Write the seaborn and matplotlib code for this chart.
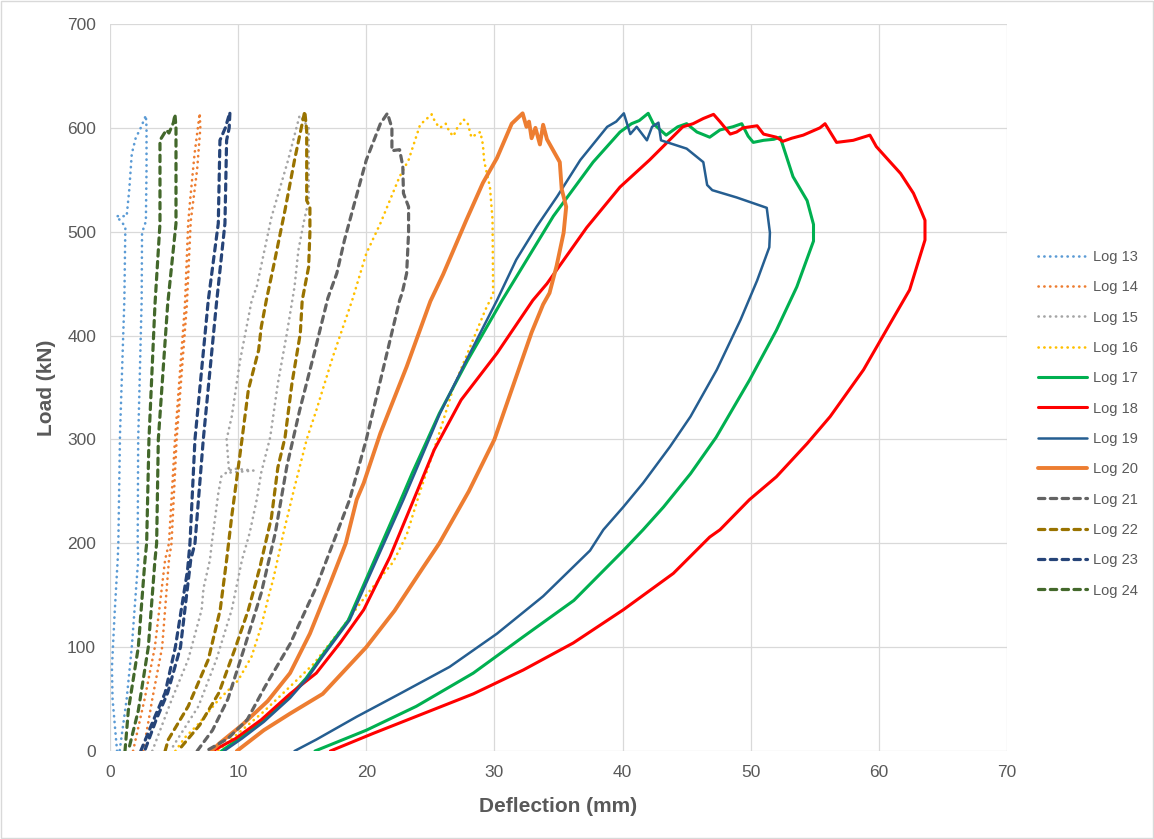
import matplotlib
matplotlib.use('Agg')
import matplotlib.pyplot as plt
import seaborn as sns
import pandas as pd

# deflection (mm) / load (kN), one loop per log
defl_13 = [0.55, 0.2, 0.15, 0.35, 0.6, 0.65, 0.78, 1.12, 1.17, 1.2, 0.5, 1.3, 1.5, 1.7, 2.0, 2.4, 2.8,
           2.85, 2.85, 2.8, 2.5, 2.47, 2.2, 2.16, 2.2, 1.7, 1.3, 0.75]
load_13 = [0, 50, 80, 130, 184, 200, 305, 434, 480, 505, 515, 515, 540, 575, 590, 600, 612,
           600, 560, 510, 499, 434, 300, 200, 184, 100, 50, 0]

defl_14 = [1.8, 2.7, 3.5, 4.3, 4.6, 5.07, 5.85, 6.1, 6.25, 6.6, 7.0,
           7.05, 6.8, 6.3, 6.0, 5.2, 4.8, 4.6, 4.07, 3.3, 2.6]
load_14 = [0, 50, 100, 184, 200, 300, 430, 508, 530, 575, 614,
           600, 560, 510, 430, 300, 200, 184, 100, 50, 0]

defl_15 = [3.3, 4.8, 6.1, 7.15, 7.3, 7.8, 7.94, 8.45, 8.7, 9.6, 11.2, 9.3, 9.1, 9.5, 10.15, 11.06, 11.45,
           12.6, 13.9, 14.8, 15.5, 15.5, 15.1, 14.7, 14.4, 13.8, 13.1, 12.5, 11.8, 11.45, 10.9, 10.3,
           9.5, 8.3, 6.9, 5.2, 4.7]
load_15 = [0, 49, 88, 136, 157, 184, 200, 248, 265, 272, 270, 268, 300, 322, 376, 434, 447,
           514, 569, 612, 600, 530, 508, 482, 447, 402, 354, 302, 268, 242, 210, 184,
           136, 88, 43, 10, 0]

defl_16 = [5.1, 5.85, 6.9, 8.45, 10.0, 11.05, 11.8, 12.4, 12.75, 13.5, 14.4, 15.35, 16.1, 17.4, 18.9,
           20.0, 21.1, 22.6, 23.3, 24.2, 25.1, 25.4, 25.75, 26.2, 26.5, 26.8, 27.1, 27.6, 27.9, 28.2,
           28.9, 29.1, 29.2, 29.65, 29.85, 29.9, 29.3, 28.0, 26.8, 25.95, 25.1, 24.2, 23.15, 22.1,
           20.0, 17.95, 15.9, 14.05, 12.0, 10.0, 8.4]
load_16 = [0, 13, 26, 49, 68, 91, 120, 150, 166, 208, 254, 300, 328, 380, 434,
           479, 508, 553, 569, 603, 613, 605, 600, 604, 596, 592, 600, 608, 605, 591,
           596, 584, 568, 543, 512, 440, 425, 386, 350, 316, 283, 250, 208, 182,
           150, 116, 84, 62, 38, 17, 0]

defl_17 = [8.7, 10.1, 11.8, 13.9, 15.3, 16.5, 18.6, 20.4, 22.7, 23.6, 25.7, 27.9, 30.6, 34.6, 37.7, 39.8,
           40.7, 41.3, 42.0, 42.4, 43.4, 44.3, 45.0, 45.8, 46.8, 47.6, 48.6, 49.3, 49.8, 50.2, 51.0,
           51.8, 52.3, 52.8, 53.3, 54.4, 54.9, 54.9, 53.6, 52.0, 49.9, 47.3, 45.3, 43.2, 41.6,
           40.06, 36.2, 32.25, 28.35, 23.9, 20.0, 16.0]
load_17 = [0, 12, 28, 51, 70, 91, 126, 177, 242, 268, 325, 376, 434, 515, 567, 596,
           604, 607, 614, 604, 593, 601, 604, 596, 591, 598, 601, 604, 592, 586, 588,
           589, 591, 572, 553, 530, 507, 491, 447, 405, 357, 302, 267, 235, 213,
           193, 145, 110, 75, 43, 20, 0]

defl_18 = [8.0, 9.8, 11.8, 14.05, 16.1, 17.95, 19.8, 21.85, 23.7, 25.3, 27.4, 30.2, 33.0, 34.1, 37.2, 39.8,
           42.1, 43.4, 44.7, 45.5, 46.3, 47.1, 47.6, 48.4, 48.9, 49.4, 50.5, 51.0, 52.0, 52.5, 53.2,
           54.1, 55.4, 55.8, 56.7, 58.0, 59.3, 59.8, 60.6, 61.7, 62.7, 63.3, 63.6, 63.6, 62.4, 60.9,
           58.8, 56.2, 54.4, 52.0, 49.9, 47.6, 46.8, 43.96, 40.06, 36.15, 32.25, 28.35, 24.45, 20.55, 17.2]
load_18 = [0, 12, 30, 55, 75, 104, 136, 187, 242, 290, 338, 383, 434, 450, 504, 543,
           569, 585, 601, 604, 609, 613, 606, 594, 596, 600, 602, 594, 591, 587, 590,
           593, 600, 604, 586, 588, 593, 582, 571, 556, 537, 520, 511, 492, 444, 412,
           367, 322, 296, 264, 242, 213, 206, 171, 136, 104, 78, 55, 36, 17, 0]

defl_19 = [8.9, 10.3, 12.0, 14.05, 15.4, 16.6, 18.7, 20.55, 22.9, 23.8, 25.75, 27.8, 30.2, 31.7, 33.3,
           34.9, 36.7, 38.8, 39.5, 40.1, 40.6, 41.1, 41.9, 42.3, 42.8, 43.0, 45.0, 46.3, 46.6, 47.0,
           48.9, 51.25, 51.5, 51.45, 50.5, 49.2, 47.35, 45.3, 43.7, 41.6, 40.06, 38.5, 37.46, 33.8,
           30.2, 26.5, 22.6, 19.25, 16.1, 14.4]
load_19 = [0, 12, 28, 51, 70, 91, 126, 177, 242, 268, 325, 376, 434, 473, 505,
           534, 569, 601, 606, 614, 594, 601, 588, 601, 605, 588, 580, 567, 545, 540,
           533, 523, 499, 485, 453, 415, 367, 322, 293, 258, 235, 213, 193, 149,
           113, 81, 55, 33, 11, 0]

defl_20 = [7.9, 8.6, 10.3, 12.3, 14.05, 15.6, 17.2, 18.4, 19.25, 19.8, 21.1, 23.15, 25.0, 26.0, 26.9, 27.8,
           29.1, 30.2, 31.35, 32.2, 32.5, 32.7, 32.9, 33.2, 33.55, 33.8, 34.1, 35.1, 35.25, 35.6,
           35.4, 34.85, 34.3, 33.8, 32.9, 30.0, 28.0, 25.7, 24.45, 22.2, 20.0, 16.6, 14.05, 12.0, 9.9]
load_20 = [0, 8, 25, 48, 75, 113, 162, 200, 242, 258, 306, 370, 433, 459, 485, 511,
           547, 571, 604, 614, 601, 606, 590, 600, 584, 603, 589, 567, 541, 524,
           499, 467, 441, 430, 403, 300, 250, 200, 177, 135, 100, 55, 36, 20, 0]

defl_21 = [6.8, 8.0, 9.2, 10.5, 11.8, 12.9, 13.8, 14.8, 16.0, 17.0, 17.7, 18.3, 19.0, 20.0, 21.1, 21.65,
           22.0, 22.0, 22.6, 22.85, 22.9, 23.3, 23.3, 23.15, 22.8, 22.6, 20.0, 18.7, 17.4, 16.1, 14.05,
           12.1, 10.7, 9.2, 7.5]
load_21 = [0, 20, 50, 100, 152, 210, 274, 328, 386, 436, 460, 492, 524, 569, 604, 614,
           600, 578, 579, 563, 537, 524, 499, 460, 441, 434, 300, 242, 200, 158, 103,
           62, 30, 12, 0]

defl_22 = [4.3, 4.55, 6.1, 7.67, 8.6, 9.1, 9.5, 10.3, 10.8, 11.6, 11.8, 12.2, 12.75, 13.66, 14.4, 15.2,
           15.35, 15.35, 15.6, 15.6, 15.5, 15.0, 14.85, 14.2, 13.66, 13.1, 12.6, 11.7, 10.8, 9.8,
           8.5, 7.0, 5.3]
load_22 = [0, 11, 43, 88, 136, 184, 226, 300, 348, 386, 408, 434, 466, 521, 569, 616,
           597, 530, 524, 499, 466, 434, 402, 354, 302, 273, 225, 177, 136, 100,
           56, 25, 0]

defl_23 = [2.4, 3.4, 4.3, 5.1, 6.05, 6.24, 6.63, 7.67, 8.45, 8.58, 9.0, 9.36,
           9.3, 9.1, 8.97, 8.3, 7.28, 6.63, 6.3, 5.5, 4.5, 3.6, 2.7]
load_23 = [0, 30, 56, 100, 174, 200, 300, 434, 508, 588, 600, 615,
           600, 588, 508, 430, 300, 200, 184, 100, 56, 30, 0]

defl_24 = [1.17, 1.43, 2.21, 2.73, 2.86, 3.04, 3.51, 3.9, 3.9, 4.4, 4.6, 4.95, 5.07,
           5.15, 5.15, 4.5, 3.77, 3.64, 3.51, 2.99, 2.21, 1.43]
load_24 = [0, 39, 100, 184, 200, 300, 430, 508, 588, 598, 595, 605, 613,
           600, 508, 430, 300, 200, 184, 100, 39, 0]

logs = ['Log 13', 'Log 14', 'Log 15', 'Log 16', 'Log 17', 'Log 18',
        'Log 19', 'Log 20', 'Log 21', 'Log 22', 'Log 23', 'Log 24']
deflections = [defl_13, defl_14, defl_15, defl_16, defl_17, defl_18,
               defl_19, defl_20, defl_21, defl_22, defl_23, defl_24]
loads = [load_13, load_14, load_15, load_16, load_17, load_18,
         load_19, load_20, load_21, load_22, load_23, load_24]

colors = ['#5B9BD5', '#ED7D31', '#A5A5A5', '#FFC000', '#00B050', '#FF0000',
          '#255E91', '#ED7D31', '#636363', '#997300', '#264478', '#43682B']
dotted = (0, (0.1, 2.1))
dashed = (0, (2.0, 1.7))
styles = [dotted] * 4 + ['-'] * 4 + [dashed] * 4
widths = [1.9, 1.9, 1.9, 1.9, 2.2, 2.2, 1.8, 2.8, 2.3, 2.3, 2.3, 2.3]

sns.set_style('whitegrid')
plt.rcParams['font.family'] = ['Liberation Sans', 'DejaVu Sans']

fig = plt.figure(figsize=(11.54, 8.39), dpi=100)
ax = fig.add_axes([110 / 1154, 1 - 751 / 839, 897 / 1154, 727 / 839])

for name, d, l, c, s, w in zip(logs, deflections, loads, colors, styles, widths):
    df = pd.DataFrame({'Deflection': d, 'Load': l})
    sns.lineplot(data=df, x='Deflection', y='Load', sort=False, estimator=None,
                 ax=ax, color=c, linestyle=s, linewidth=w, label=name,
                 dash_capstyle='round', solid_capstyle='round', solid_joinstyle='round')

ax.set_xlim(0, 70)
ax.set_ylim(0, 700)
ax.set_xticks(range(0, 71, 10))
ax.set_yticks(range(0, 701, 100))
ax.grid(True, color='#D9D9D9', linewidth=0.9)
for sp in ax.spines.values():
    sp.set_visible(False)
ax.tick_params(axis='both', colors='#595959', labelsize=12.5, length=0, pad=10)
ax.set_xlabel('Deflection (mm)', fontsize=15, fontweight='bold', color='#595959', labelpad=12)
ax.set_ylabel('Load (kN)', fontsize=15, fontweight='bold', color='#595959', labelpad=8)

ax.legend_.remove()
handles, labels = ax.get_legend_handles_labels()
leg = fig.legend(handles, labels, loc='center left', bbox_to_anchor=(0.888, 0.495),
                 frameon=False, fontsize=10.5, labelspacing=1.12, handlelength=3.4,
                 handletextpad=0.35)
for t in leg.get_texts():
    t.set_color('#595959')

fig.patches.append(plt.Rectangle((0.001, 0.001), 0.998, 0.998, transform=fig.transFigure,
                                 fill=False, edgecolor='#D9D9D9', linewidth=1))

fig.savefig('out.png', dpi=100)
